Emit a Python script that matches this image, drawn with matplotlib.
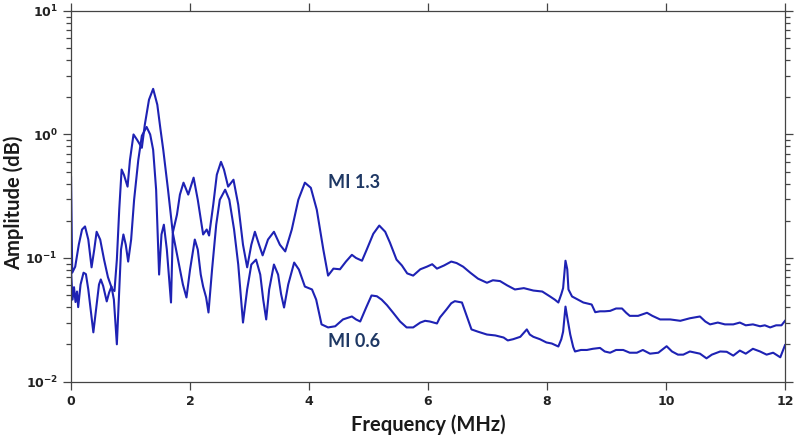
import math
import matplotlib
matplotlib.use("Agg")
import matplotlib.pyplot as plt
from matplotlib.ticker import LogLocator, FuncFormatter, NullFormatter

# MI 1.3 spectrum (frequency in MHz, amplitude)
freq_13 = [0.0, 0.02, 0.07, 0.13, 0.185, 0.235, 0.29, 0.345, 0.39, 0.43, 0.49, 0.555, 0.62, 0.69, 0.73,
           0.77, 0.81, 0.85, 0.89, 0.95, 0.99, 1.05, 1.11, 1.19, 1.24, 1.31, 1.38, 1.45, 1.50, 1.55, 1.63,
           1.71, 1.78, 1.83, 1.89, 1.97, 2.06, 2.13, 2.22, 2.28, 2.32, 2.39, 2.45, 2.52, 2.57, 2.64, 2.73,
           2.81, 2.89, 2.96, 3.03, 3.09, 3.16, 3.22, 3.31, 3.41, 3.51, 3.60, 3.71, 3.82, 3.93, 4.03, 4.13,
           4.24, 4.32, 4.41, 4.52, 4.62, 4.72, 4.79, 4.89, 4.97, 5.08, 5.18, 5.28, 5.36, 5.47, 5.56, 5.65,
           5.75, 5.87, 5.98, 6.07, 6.15, 6.27, 6.39, 6.48, 6.59, 6.71, 6.84, 6.99, 7.09, 7.21, 7.33, 7.46,
           7.61, 7.77, 7.92, 8.05, 8.13, 8.19, 8.24, 8.27, 8.31, 8.34, 8.36, 8.42, 8.52, 8.61, 8.75, 8.81,
           8.89, 8.97, 9.06, 9.16, 9.26, 9.33, 9.39, 9.53, 9.68, 9.77, 9.90, 10.07, 10.24, 10.40, 10.57,
           10.66, 10.74, 10.87, 10.99, 11.13, 11.24, 11.34, 11.46, 11.58, 11.66, 11.75, 11.85, 11.94, 12.0]
amp_13 = [0.45, 0.076, 0.085, 0.128, 0.17, 0.18, 0.141, 0.084, 0.117, 0.163, 0.141, 0.097, 0.07, 0.056, 0.054,
          0.097, 0.246, 0.52, 0.47, 0.378, 0.62, 1.0, 0.905, 0.78, 1.2, 1.91, 2.34, 1.74, 1.13, 0.75, 0.357,
          0.16, 0.224, 0.326, 0.407, 0.326, 0.447, 0.296, 0.155, 0.17, 0.152, 0.27, 0.472, 0.60, 0.52, 0.378, 0.43,
          0.27, 0.128, 0.084, 0.128, 0.163, 0.128, 0.105, 0.141, 0.163, 0.128, 0.113, 0.17, 0.296, 0.407, 0.37, 0.246,
          0.117, 0.072, 0.082, 0.081, 0.0935, 0.106, 0.10, 0.095, 0.117, 0.157, 0.183, 0.163, 0.133, 0.097, 0.087, 0.075,
          0.072, 0.081, 0.085, 0.089, 0.082, 0.087, 0.0935, 0.091, 0.085, 0.076, 0.068, 0.063, 0.066, 0.065, 0.060, 0.0556,
          0.057, 0.0545, 0.0535, 0.0488, 0.046, 0.0436, 0.051, 0.057, 0.095, 0.081, 0.0556, 0.0488, 0.046, 0.0436, 0.042, 0.0364,
          0.037, 0.037, 0.0373, 0.039, 0.039, 0.036, 0.034, 0.034, 0.036, 0.034, 0.0318, 0.0318, 0.031, 0.0325, 0.0336,
          0.0306, 0.029, 0.030, 0.029, 0.029, 0.030, 0.0285, 0.029, 0.028, 0.0285, 0.0274, 0.0285, 0.0285, 0.031]

# MI 0.6 spectrum
freq_06 = [0.0, 0.025, 0.05, 0.075, 0.10, 0.12, 0.16, 0.21, 0.25, 0.29, 0.34, 0.375, 0.42, 0.47, 0.50, 0.54,
           0.60, 0.64, 0.68, 0.72, 0.77, 0.81, 0.84, 0.88, 0.92, 0.96, 1.01, 1.06, 1.13, 1.19, 1.27, 1.33,
           1.38, 1.43, 1.48, 1.52, 1.56, 1.61, 1.68, 1.71, 1.83, 1.88, 1.94, 2.0, 2.08, 2.13, 2.18, 2.22,
           2.27, 2.31, 2.37, 2.44, 2.50, 2.59, 2.66, 2.74, 2.81, 2.89, 2.96, 3.03, 3.11, 3.18, 3.23, 3.28,
           3.33, 3.41, 3.48, 3.53, 3.58, 3.65, 3.75, 3.83, 3.93, 4.05, 4.12, 4.21, 4.32, 4.44, 4.57, 4.72,
           4.79, 4.86, 4.96, 5.05, 5.14, 5.22, 5.31, 5.41, 5.53, 5.64, 5.75, 5.87, 5.95, 6.03, 6.15, 6.20,
           6.31, 6.39, 6.45, 6.57, 6.64, 6.73, 6.84, 6.99, 7.13, 7.27, 7.34, 7.43, 7.55, 7.66, 7.71, 7.77,
           7.88, 7.99, 8.08, 8.19, 8.24, 8.27, 8.31, 8.34, 8.39, 8.44, 8.47, 8.57, 8.67, 8.77, 8.89, 8.97,
           9.06, 9.16, 9.28, 9.39, 9.51, 9.61, 9.73, 9.87, 10.01, 10.10, 10.20, 10.29, 10.40, 10.57, 10.68,
           10.77, 10.91, 11.02, 11.13, 11.24, 11.34, 11.46, 11.58, 11.69, 11.80, 11.92, 11.98, 12.0]
amp_06 = [0.08, 0.046, 0.058, 0.044, 0.0535, 0.040, 0.061, 0.076, 0.074, 0.0556, 0.0348, 0.025, 0.038, 0.061, 0.067, 0.0593,
          0.0445, 0.0525, 0.0587, 0.046, 0.020, 0.0556, 0.117, 0.155, 0.128, 0.0935, 0.141, 0.296, 0.62, 0.975, 1.15, 1.0,
          0.75, 0.357, 0.0734, 0.155, 0.186, 0.117, 0.0436, 0.16, 0.0805, 0.061, 0.0479, 0.0805, 0.141, 0.117, 0.0734, 0.0587,
          0.048, 0.0362, 0.0805, 0.186, 0.296, 0.357, 0.296, 0.17, 0.0885, 0.030, 0.0556, 0.0885, 0.097, 0.0734, 0.046, 0.0318,
          0.0556, 0.0885, 0.0734, 0.051, 0.0397, 0.061, 0.0918, 0.0805, 0.0587, 0.0556, 0.046, 0.029, 0.0274, 0.028, 0.0318, 0.0336,
          0.0318, 0.0306, 0.0397, 0.0497, 0.049, 0.046, 0.0415, 0.0362, 0.0306, 0.0274, 0.0274, 0.030, 0.031, 0.0306, 0.0295, 0.033,
          0.0383, 0.043, 0.0447, 0.0436, 0.035, 0.0264, 0.0253, 0.024, 0.0236, 0.0227, 0.0215, 0.022, 0.023, 0.0264, 0.024, 0.023,
          0.022, 0.0207, 0.0203, 0.0192, 0.022, 0.0253, 0.0404, 0.033, 0.024, 0.019, 0.0175, 0.018, 0.018, 0.0184, 0.0187, 0.0175,
          0.0171, 0.018, 0.018, 0.0171, 0.0171, 0.018, 0.0168, 0.0171, 0.0193, 0.0175, 0.0165, 0.0165, 0.0175, 0.0168, 0.0154,
          0.0165, 0.0175, 0.0174, 0.0162, 0.0178, 0.0168, 0.0184, 0.0175, 0.0165, 0.0171, 0.0157, 0.0186, 0.0197]

labels = ["MI 1.3", "MI 0.6"]
label_pos = [(4.32, 0.41), (4.32, 0.021)]
x_ticks = [0, 2, 4, 6, 8, 10, 12]

line_color = "#1e22b4"
text_color = "#1f3864"

fig = plt.figure(figsize=(8, 4.37), dpi=100)
ax = fig.add_axes([0.0888, 0.127, 0.8925, 0.848])

ax.plot(freq_13, amp_13, color=line_color, lw=1.5, solid_joinstyle="round")
ax.plot(freq_06, amp_06, color=line_color, lw=1.5, solid_joinstyle="round")

ax.set_yscale("log")
ax.set_xlim(0, 12)
ax.set_ylim(1e-2, 1e1)
ax.set_xticks(x_ticks)
ax.yaxis.set_major_locator(LogLocator(base=10, numticks=10))
ax.yaxis.set_minor_locator(LogLocator(base=10, subs=range(2, 10), numticks=20))
ax.yaxis.set_minor_formatter(NullFormatter())
ax.yaxis.set_major_formatter(FuncFormatter(lambda v, p: r"$\mathbf{10^{%d}}$" % round(math.log10(v))))

for s in ax.spines.values():
    s.set_color("#444444")
    s.set_linewidth(0.9)
ax.tick_params(which="both", direction="out", top=True, right=True, color="#444444", width=0.9)
ax.tick_params(which="major", length=6, labelsize=9, labelcolor="#222222")
ax.tick_params(which="minor", length=3.5)
ax.tick_params(axis="x", pad=4)
for t in ax.get_xticklabels():
    t.set_fontweight("bold")

ax.set_xlabel("Frequency (MHz)", fontsize=14.5, fontweight="bold", family="Lato", color="#1a1a1a", labelpad=4)
fig.text(0.017, 0.535, "Amplitude (dB)", rotation=90, fontsize=14.5, fontweight="bold", family="Lato",
         color="#1a1a1a", ha="center", va="center")

for lab, (lx, ly) in zip(labels, label_pos):
    ax.text(lx, ly, lab, fontsize=13, fontweight="bold", family="Lato", color=text_color, va="center")

fig.savefig("out.png", dpi=100)
